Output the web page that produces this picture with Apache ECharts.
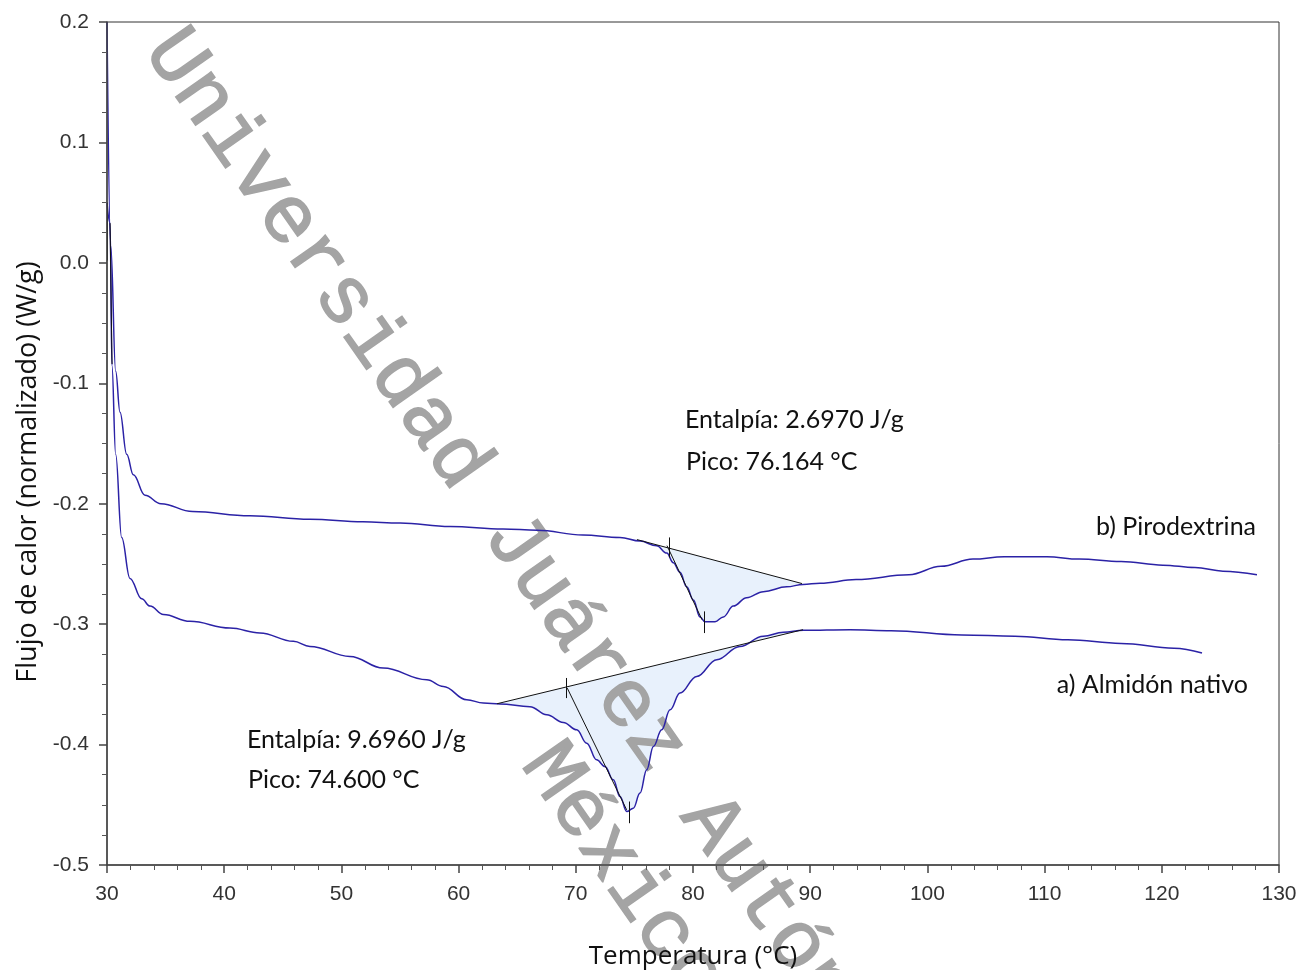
<!DOCTYPE html>
<html>
<head>
<meta charset="utf-8">
<script src="https://cdn.jsdelivr.net/npm/echarts@6/dist/echarts.min.js"></script>
<style>html,body{margin:0;padding:0;background:#fff}#c{width:1303px;height:970px}</style>
</head>
<body>
<div id="c"></div>
<script>
// ---- Data ----
const xTicks = [30, 40, 50, 60, 70, 80, 90, 100, 110, 120, 130];
const yTicks = [-0.5, -0.4, -0.3, -0.2, -0.1, 0.0, 0.1, 0.2];

// b) Pirodextrina  [temperature °C, heat flow W/g]
const pirodextrina = [
  [30.0, 0.200], [30.32, 0.014], [30.74, -0.090], [31.11, -0.124], [31.68, -0.159],
  [32.25, -0.176], [33.24, -0.193], [34.6, -0.200], [37.3, -0.2065], [42.2, -0.210],
  [47.32, -0.213], [51.84, -0.215], [55.0, -0.216], [59.27, -0.219], [63.79, -0.221],
  [66.69, -0.222], [70.61, -0.226], [73.77, -0.228], [75.48, -0.231], [76.90, -0.235],
  [77.76, -0.241], [78.32, -0.249], [78.89, -0.257], [79.46, -0.269], [80.03, -0.280],
  [80.60, -0.294], [81.02, -0.298], [81.88, -0.298], [82.59, -0.294], [83.44, -0.285],
  [84.58, -0.278], [86.0, -0.273], [88.0, -0.269], [89.39, -0.267], [90.84, -0.266],
  [93.91, -0.263], [98.43, -0.259], [101.16, -0.252], [103.89, -0.246], [106.54, -0.244],
  [110.2, -0.244], [112.94, -0.246], [116.52, -0.248], [120.1, -0.251], [122.83, -0.253],
  [125.22, -0.256], [128.12, -0.259]
];

// a) Almidón nativo
const almidon = [
  [30.0, 0.050], [30.26, 0.033], [30.42, -0.085], [30.74, -0.159], [31.25, -0.228],
  [31.96, -0.262], [32.96, -0.279], [33.67, -0.285], [34.81, -0.292], [37.08, -0.2977],
  [40.49, -0.3032], [43.05, -0.3073], [45.90, -0.3143], [47.32, -0.3185], [50.73, -0.3268],
  [53.57, -0.3365], [57.28, -0.3462], [58.70, -0.3517], [60.69, -0.3628], [62.11, -0.3655],
  [63.53, -0.3663], [66.09, -0.3685], [67.52, -0.3752], [68.94, -0.3816], [70.08, -0.3877],
  [70.93, -0.3988], [71.78, -0.4127], [72.49, -0.4182], [73.20, -0.4293], [73.77, -0.4432],
  [74.35, -0.4556], [74.91, -0.4528], [75.48, -0.4403], [76.05, -0.4210], [76.62, -0.4016],
  [77.33, -0.3877], [78.04, -0.3711], [78.89, -0.3572], [80.32, -0.3434], [82.03, -0.3295],
  [84.0, -0.3185], [86.0, -0.3100], [87.71, -0.3068], [89.42, -0.3051], [93.4, -0.3046],
  [96.9, -0.3054], [102.95, -0.3090], [107.47, -0.3100], [111.99, -0.3130], [116.52, -0.3160],
  [121.04, -0.3200], [123.43, -0.3240]
];

// integration baselines [start, end]
const baselineB = [[75.22, -0.2298], [89.30, -0.2663]];
const baselineA = [[63.28, -0.3661], [89.39, -0.3046]];
// onset tangents
const tangentB = [[77.78, -0.2348], [80.77, -0.2963]];
const tangentA = [[69.27, -0.3531], [74.34, -0.4542]];
// small vertical markers (onset, peak)
const markerSegments = [
  [[77.98, -0.2280], [77.98, -0.2447]],
  [[80.96, -0.2894], [80.96, -0.3074]],
  [[69.16, -0.3447], [69.16, -0.3614]],
  [[74.57, -0.4473], [74.57, -0.4653]],
  [[30.0, 0.050], [30.0, 0.002]],
  [[30.26, 0.033], [30.43, -0.084]]
];

const labelsText = {
  b: 'b) Pirodextrina',
  a: 'a) Almidón nativo',
  entB: 'Entalpía: 2.6970 J/g',
  picoB: 'Pico: 76.164 °C',
  entA: 'Entalpía: 9.6960 J/g',
  picoA: 'Pico: 74.600 °C'
};
const xTitle = 'Temperatura (°C)';
const yTitle = 'Flujo de calor (normalizado) (W/g)';

// ---- build fill polygons from the curve + baseline ----
function fillPolygon(curve, base) {
  const pts = [base[0]];
  curve.forEach(p => { if (p[0] > base[0][0] && p[0] < base[1][0]) pts.push(p); });
  pts.push(base[1]);
  return pts;
}
const fillB = fillPolygon(pirodextrina, baselineB);
const fillA = fillPolygon(almidon, baselineA);

const curveColor = '#2b22a6';
const annFont = '25px Lato, "Open Sans", sans-serif';
const wmFont = '82px "Liberation Mono", monospace';
const wmColor = '#a4a4a4';

const chart = echarts.init(document.getElementById('c'), null, {renderer: 'canvas'});

function fillSeries(poly) {
  return {
    type: 'custom', z: 1, silent: true,
    data: [poly[0]],
    encode: {x: 0, y: 1},
    renderItem: function (params, api) {
      return {
        type: 'polygon',
        shape: {points: poly.map(p => api.coord(p)), smooth: 0},
        style: {fill: '#e8f1fc', stroke: null}
      };
    }
  };
}

const segData = [baselineB, baselineA, tangentB, tangentA].concat(markerSegments)
  .map(s => ({coords: s}));

chart.setOption({
  animation: false,
  backgroundColor: '#fff',
  grid: {left: 107, right: 24, top: 22, bottom: 105, show: true, borderColor: '#333', borderWidth: 1,
    containLabel: false, outerBoundsMode: 'none'},
  xAxis: {
    type: 'value', z: 6, min: xTicks[0], max: xTicks[xTicks.length - 1], interval: 10,
    name: xTitle, nameLocation: 'middle', nameGap: 79,
    nameTextStyle: {fontFamily: '"Open Sans", sans-serif', fontSize: 26, color: '#111'},
    axisLine: {onZero: false, lineStyle: {color: '#444', width: 1.5}},
    axisTick: {inside: false, length: 8, lineStyle: {color: '#444', width: 1.5}},
    minorTick: {show: true, splitNumber: 5, length: 5, lineStyle: {color: '#555', width: 1}},
    axisLabel: {margin: 19, fontFamily: '"Liberation Sans", Arial, sans-serif', fontSize: 21, color: '#333'},
    splitLine: {show: false}
  },
  yAxis: {
    type: 'value', z: 6, min: yTicks[0], max: yTicks[yTicks.length - 1], interval: 0.1,
    axisLine: {onZero: false, lineStyle: {color: '#444', width: 1.5}},
    axisTick: {inside: false, length: 8, lineStyle: {color: '#444', width: 1.5}},
    minorTick: {show: true, splitNumber: 4, length: 5, lineStyle: {color: '#555', width: 1}},
    axisLabel: {margin: 18, fontFamily: '"Liberation Sans", Arial, sans-serif', fontSize: 21, color: '#333',
      formatter: v => (Math.abs(v) < 1e-9 ? '0.0' : v.toFixed(1))},
    splitLine: {show: false}
  },
  graphic: [
    {type: 'text', x: 161, y: 38, rotation: -55 * Math.PI / 180, z: 2, silent: true,
      style: {text: 'Universidad Juárez Autónoma de Tabasco', font: wmFont,
        fill: wmColor, stroke: wmColor, lineWidth: 1.5, align: 'left', verticalAlign: 'middle'}},
    {type: 'text', x: 538, y: 752, rotation: -55 * Math.PI / 180, z: 2, silent: true,
      style: {text: 'México', font: wmFont,
        fill: wmColor, stroke: wmColor, lineWidth: 1.5, align: 'left', verticalAlign: 'middle'}},
    {type: 'text', x: 28, y: 472, rotation: Math.PI / 2, z: 10, silent: true,
      style: {text: yTitle, font: '27px "Open Sans", sans-serif', fill: '#111', align: 'center', verticalAlign: 'middle'}},
    {type: 'text', x: 685, y: 420, z: 10, style: {text: labelsText.entB, font: annFont, fill: '#111', align: 'left', verticalAlign: 'middle'}},
    {type: 'text', x: 686, y: 462, z: 10, style: {text: labelsText.picoB, font: annFont, fill: '#111', align: 'left', verticalAlign: 'middle'}},
    {type: 'text', x: 1256, y: 527, z: 10, style: {text: labelsText.b, font: annFont, fill: '#111', align: 'right', verticalAlign: 'middle'}},
    {type: 'text', x: 1248, y: 685, z: 10, style: {text: labelsText.a, font: annFont, fill: '#111', align: 'right', verticalAlign: 'middle'}},
    {type: 'text', x: 247, y: 740, z: 10, style: {text: labelsText.entA, font: annFont, fill: '#111', align: 'left', verticalAlign: 'middle'}},
    {type: 'text', x: 248, y: 780, z: 10, style: {text: labelsText.picoA, font: annFont, fill: '#111', align: 'left', verticalAlign: 'middle'}}
  ],
  series: [
    fillSeries(fillB),
    fillSeries(fillA),
    {type: 'line', name: 'b) Pirodextrina', data: pirodextrina, showSymbol: false, z: 3,
      smooth: 0.4, smoothMonotone: 'x', lineStyle: {color: curveColor, width: 1.5}},
    {type: 'line', name: 'a) Almidón nativo', data: almidon, showSymbol: false, z: 3,
      smooth: 0.4, smoothMonotone: 'x', lineStyle: {color: curveColor, width: 1.5}},
    {type: 'lines', coordinateSystem: 'cartesian2d', z: 4, silent: true,
      data: segData, lineStyle: {color: '#111', width: 1, opacity: 1}, effect: {show: false}}
  ]
});
</script>
</body>
</html>
